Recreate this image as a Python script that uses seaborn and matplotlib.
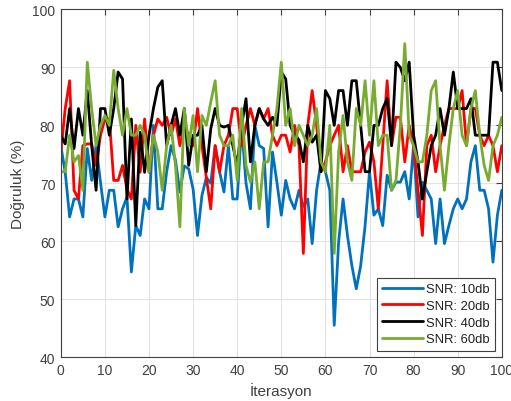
import numpy as np
import pandas as pd
import matplotlib
matplotlib.use("Agg")
import matplotlib.pyplot as plt
import seaborn as sns

iterations = list(range(101))

snr10 = [76.5, 71.9, 64.2, 67.3, 67.3, 64.2, 76.0, 70.5, 76.5, 70.2,
         64.2, 68.8, 68.8, 62.5, 65.6, 67.6, 54.7, 62.7, 61.0, 67.3,
         65.6, 80.0, 65.6, 65.6, 72.0, 76.5, 74.0, 68.5, 73.0, 72.5,
         69.0, 61.0, 67.9, 71.0, 70.0, 76.5, 72.0, 68.5, 76.5, 67.3,
         67.3, 80.0, 70.0, 65.6, 80.0, 76.5, 76.0, 62.5, 75.4, 70.2,
         64.5, 70.5, 67.3, 65.6, 68.8, 66.0, 67.3, 59.6, 68.8, 73.7,
         72.0, 68.8, 45.5, 59.9, 67.3, 61.0, 55.8, 51.8, 55.8, 62.7,
         72.0, 64.5, 65.6, 62.7, 71.4, 68.8, 70.2, 70.2, 72.0, 67.3,
         76.5, 64.2, 70.2, 68.8, 67.3, 59.6, 67.3, 59.6, 62.7, 65.6,
         67.3, 65.6, 67.3, 73.7, 76.5, 68.8, 68.8, 65.6, 56.4, 64.5,
         68.8]

snr20 = [75.4, 82.9, 87.7, 68.8, 67.3, 76.5, 76.8, 76.8, 73.1, 78.3,
         81.1, 81.1, 70.5, 70.5, 73.1, 69.0, 67.3, 80.0, 71.9, 81.1,
         71.9, 78.3, 81.1, 80.0, 81.4, 78.3, 81.1, 76.5, 80.0, 78.3,
         76.5, 82.9, 76.5, 71.0, 65.6, 76.5, 72.0, 76.5, 78.3, 82.9,
         82.9, 76.5, 80.0, 82.9, 80.0, 82.9, 81.1, 82.9, 78.3, 76.5,
         78.3, 78.3, 75.4, 80.0, 76.5, 57.9, 80.0, 86.0, 80.0, 72.0,
         73.7, 76.5, 78.3, 80.0, 72.0, 76.5, 72.0, 72.0, 72.0, 75.4,
         77.1, 73.7, 65.6, 76.5, 87.7, 76.5, 81.4, 81.4, 73.7, 80.0,
         76.5, 68.8, 61.0, 76.5, 78.3, 72.0, 76.5, 80.0, 82.9, 82.9,
         82.9, 86.0, 76.5, 82.9, 82.9, 78.3, 76.5, 78.3, 76.5, 72.0,
         76.5]

snr40 = [78.3, 76.8, 82.9, 76.0, 82.9, 78.3, 86.0, 76.5, 68.8, 82.9,
         82.9, 78.3, 82.9, 89.2, 88.0, 67.3, 81.1, 62.7, 78.8, 71.9,
         78.3, 82.9, 86.6, 87.7, 76.5, 80.0, 82.9, 78.3, 82.9, 73.1,
         78.3, 78.3, 80.0, 72.0, 79.4, 82.9, 80.0, 79.7, 80.0, 76.5,
         73.1, 80.0, 84.6, 73.7, 80.0, 82.9, 81.1, 80.0, 81.4, 80.0,
         89.2, 88.0, 80.0, 78.3, 77.5, 73.7, 80.0, 77.1, 78.3, 72.0,
         86.0, 84.6, 80.0, 86.0, 86.0, 80.0, 87.7, 87.7, 80.0, 72.0,
         72.0, 80.0, 80.0, 82.9, 84.6, 76.5, 90.9, 90.0, 87.7, 90.9,
         78.3, 73.7, 67.3, 72.0, 76.5, 78.3, 82.9, 78.3, 82.9, 89.2,
         82.9, 82.9, 82.9, 84.6, 78.3, 78.3, 78.3, 78.3, 90.9, 90.9,
         86.0]

snr60 = [72.0, 72.0, 78.3, 73.7, 74.8, 68.8, 90.9, 82.9, 76.5, 80.0,
         81.7, 80.0, 89.5, 82.9, 78.3, 82.9, 78.3, 78.3, 80.0, 78.3,
         72.0, 78.3, 75.4, 68.8, 76.5, 80.0, 73.1, 62.5, 82.9, 76.5,
         81.7, 72.0, 81.7, 80.0, 84.0, 87.7, 78.3, 76.5, 76.5, 78.3,
         70.5, 82.9, 73.1, 70.2, 73.7, 65.6, 73.7, 73.7, 78.3, 82.9,
         90.9, 80.0, 82.9, 76.5, 80.0, 78.3, 76.5, 78.3, 82.9, 73.7,
         72.0, 80.0, 57.9, 75.4, 81.7, 73.7, 70.5, 82.9, 80.0, 87.7,
         78.3, 87.7, 76.5, 78.3, 78.3, 68.8, 70.5, 80.0, 94.1, 78.3,
         76.5, 73.7, 73.7, 78.3, 86.0, 87.7, 76.5, 68.8, 76.5, 82.9,
         86.0, 78.3, 76.5, 82.9, 86.0, 78.3, 73.1, 70.5, 76.5, 78.3,
         81.4]

labels = ["SNR: 10db", "SNR: 20db", "SNR: 40db", "SNR: 60db"]
colors = ["#0072BD", "#FF0000", "#000000", "#77AC30"]
x_ticks = list(range(0, 101, 10))
y_ticks = list(range(40, 101, 10))

frames = []
for lab, vals in zip(labels, [snr10, snr20, snr40, snr60]):
    frames.append(pd.DataFrame({"iter": iterations, "acc": vals, "series": lab}))
df = pd.concat(frames, ignore_index=True)

sns.set_theme(style="whitegrid")
plt.rcParams["font.family"] = ["Liberation Sans", "DejaVu Sans"]
axis_col = "#404040"

fig = plt.figure(figsize=(5.11, 4.02), dpi=100)
ax = fig.add_axes([0.119, 0.109, 0.863, 0.865])
sns.lineplot(data=df, x="iter", y="acc", hue="series", palette=colors,
             hue_order=labels, linewidth=2.0, ax=ax, legend=True)

ax.set_xlim(0, 100)
ax.set_ylim(40, 100)
ax.set_xticks(x_ticks)
ax.set_yticks(y_ticks)
ax.set_facecolor("white")
ax.grid(True, color="#e3e3e3", linewidth=0.8)
ax.set_axisbelow(True)
for s in ax.spines.values():
    s.set_visible(True)
    s.set_color(axis_col)
    s.set_linewidth(0.8)
ax.tick_params(axis="both", direction="in", length=4, width=0.8,
               colors=axis_col, labelsize=10, top=True, right=True,
               labeltop=False, labelright=False, pad=4)
ax.set_xlabel("İterasyon", fontsize=11, color=axis_col, labelpad=4)
ax.set_ylabel("Doğruluk (%)", fontsize=11, color=axis_col, labelpad=5)

leg = ax.legend(loc="lower right", fontsize=9.4, frameon=True, fancybox=False,
                edgecolor="#404040", framealpha=1, handlelength=3.1,
                handletextpad=0.3, borderpad=0.4, labelspacing=0.35,
                borderaxespad=0.5)
leg.get_frame().set_linewidth(0.8)
for t in leg.get_texts():
    t.set_color("#222222")

fig.savefig("out.png", dpi=100)
